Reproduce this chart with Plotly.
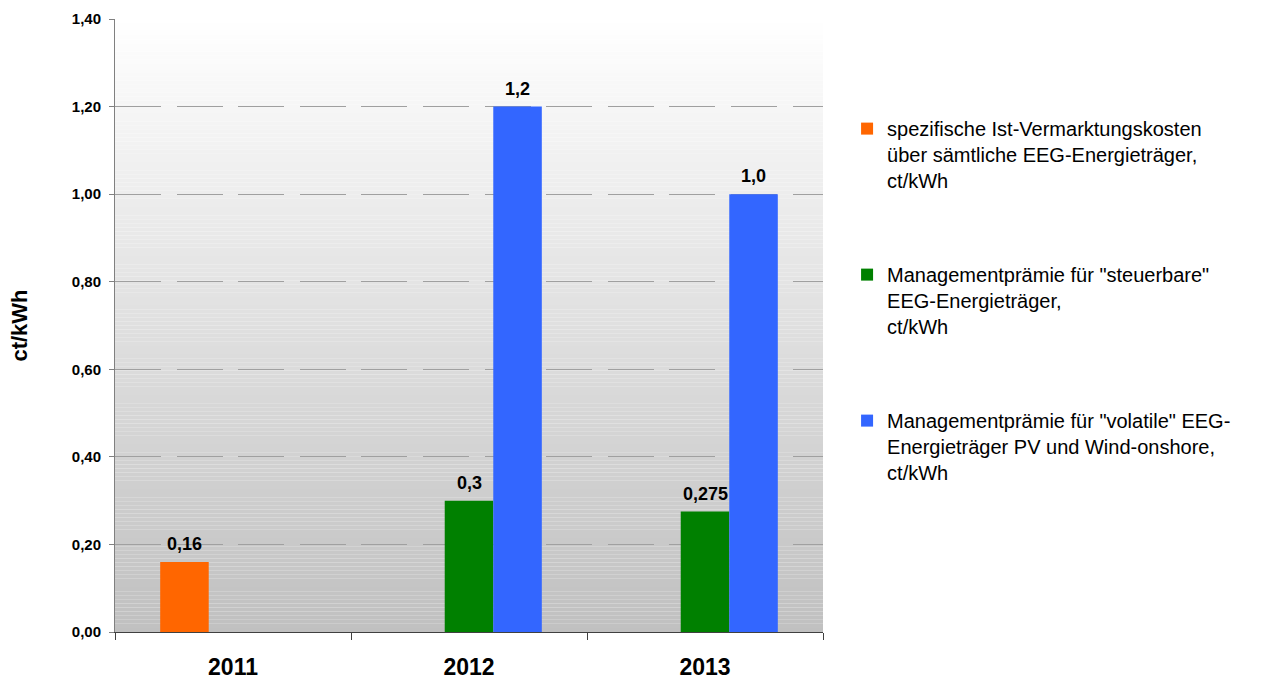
import plotly.graph_objects as go

# Jahre (Kategorien) und Werte in ct/kWh
years = ["2011", "2012", "2013"]
ist_kosten = [0.16, None, None]
praemie_steuerbar = [None, 0.3, 0.275]
praemie_volatil = [None, 1.2, 1.0]

series_names = [
    "spezifische Ist-Vermarktungskosten<br>über sämtliche EEG-Energieträger,<br>ct/kWh",
    "Managementprämie für \"steuerbare\"<br>EEG-Energieträger,<br>ct/kWh",
    "Managementprämie für \"volatile\" EEG-<br>Energieträger PV und Wind-onshore,<br>ct/kWh",
]
series_values = [ist_kosten, praemie_steuerbar, praemie_volatil]
series_colors = ["#ff6600", "#008000", "#3366ff"]

y_ticks = [0.0, 0.2, 0.4, 0.6, 0.8, 1.0, 1.2, 1.4]

FONT = "Arial, Liberation Sans, sans-serif"
BARGAP = 0.383
n_series = len(series_values)
bar_w = (1 - BARGAP) / n_series  # width of one bar in category units


def de_label(v):
    return str(v).replace(".", ",")


fig = go.Figure()
annotations = []
for i, (name, vals, col) in enumerate(zip(series_names, series_values, series_colors)):
    fig.add_trace(go.Bar(
        x=years,
        y=vals,
        name=name,
        legendgroup=f"g{i}",
        marker=dict(color=col, line=dict(width=0)),
        hoverinfo="skip",
    ))
    # value labels above each bar
    offset = (i - (n_series - 1) / 2) * bar_w
    for j, v in enumerate(vals):
        if v is None:
            continue
        annotations.append(dict(
            x=j + offset, y=v, xref="x", yref="y",
            text=de_label(v), showarrow=False,
            xanchor="center", yanchor="bottom", yshift=6,
            font=dict(family=FONT, size=18, color="#000000", weight="bold"),
        ))

# vertical grey gradient behind the plot area
shapes = []
n_bands = 150
for k in range(n_bands):
    t = (k + 0.5) / n_bands
    c = round(192 + (255 - 192) * t)
    shapes.append(dict(
        type="rect", xref="paper", yref="paper",
        x0=0, x1=1, y0=k / n_bands, y1=(k + 1) / n_bands,
        fillcolor=f"rgb({c},{c},{c})", line=dict(width=0), layer="below",
    ))

fig.update_layout(
    width=1262,
    height=679,
    margin=dict(l=115, r=439, t=19, b=47),
    paper_bgcolor="#ffffff",
    plot_bgcolor="#ffffff",
    separators=",.",
    barmode="group",
    bargap=BARGAP,
    bargroupgap=0,
    shapes=shapes,
    annotations=annotations,
    font=dict(family=FONT, color="#000000"),
    showlegend=True,
    legend=dict(
        x=1.034, y=0.853, xanchor="left", yanchor="top",
        font=dict(family=FONT, size=20, color="#000000"),
        traceorder="grouped",
        tracegroupgap=65,
        valign="top",
        bgcolor="rgba(0,0,0,0)",
    ),
    xaxis=dict(
        type="category",
        automargin=False,
        tickson="boundaries",
        ticks="outside",
        ticklen=7,
        tickcolor="#404040",
        showline=True,
        linecolor="#404040",
        linewidth=1,
        showgrid=False,
        tickfont=dict(family=FONT, size=23, color="#000000", weight="bold"),
        ticklabelstandoff=14,
    ),
    yaxis=dict(
        range=[0, 1.4],
        automargin=False,
        tickvals=y_ticks,
        tickformat=".2f",
        ticks="outside",
        ticklen=5,
        tickcolor="#808080",
        showline=True,
        linecolor="#808080",
        linewidth=1,
        showgrid=True,
        gridcolor="#a0a0a0",
        gridwidth=1,
        griddash="46px,15.6px",
        zeroline=False,
        tickfont=dict(family=FONT, size=15, color="#000000", weight="bold"),
        ticklabelstandoff=5,
        title=dict(text="ct/kWh", font=dict(family=FONT, size=22, color="#000000", weight="bold"), standoff=38),
    ),
)

fig.write_html("out.html")
